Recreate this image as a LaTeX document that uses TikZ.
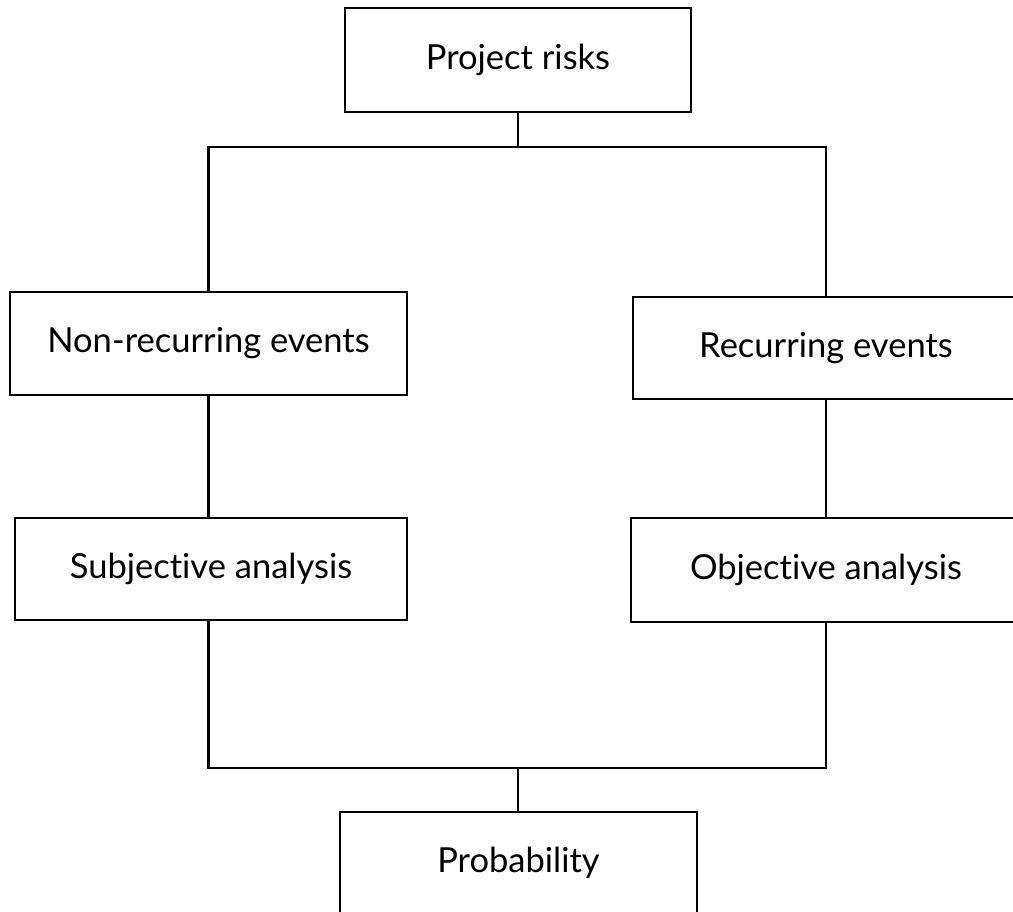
\documentclass[tikz,border=0pt]{standalone}
\usepackage{fontspec}
\setmainfont{Lato}[Ligatures=NoCommon]
\begin{document}
\begin{tikzpicture}[x=1pt,y=-1pt,
  box/.style={draw=black,line width=2.8pt,rectangle,inner sep=0pt,font=\fontsize{34.5}{40}\selectfont},
  conn/.style={draw=black,line width=2.8pt}]
\clip (0,0) rectangle (1013,912);
\node[box,minimum width=346pt,minimum height=104pt] (top) at (518,60) {Project risks};
\node[box,minimum width=397pt,minimum height=103pt] (nre) at (208.5,343.5) {Non-recurring events};
\node[box,minimum width=386pt,minimum height=102pt] (rec) at (826,348) {Recurring events};
\node[box,minimum width=392pt,minimum height=102pt] (subj) at (211,569) {Subjective analysis};
\node[box,minimum width=390pt,minimum height=104pt] (obj) at (826,570) {Objective analysis};
\node[box,minimum width=357pt,minimum height=102pt] (prob) at (518.5,863) {Probability};
\coordinate (tj) at (518,147);
\coordinate (bj) at (518,768);
\draw[conn] (top.south) -- (tj);
\draw[conn] (nre.north) |- (tj) -| (rec.north);
\draw[conn] (nre.south) -- (nre.south |- subj.north);
\draw[conn] (rec.south) -- (rec.south |- obj.north);
\draw[conn] (subj.south -| nre.south) |- (bj) -| (obj.south);
\draw[conn] (bj) -- (bj |- prob.north);
\end{tikzpicture}
\end{document}
